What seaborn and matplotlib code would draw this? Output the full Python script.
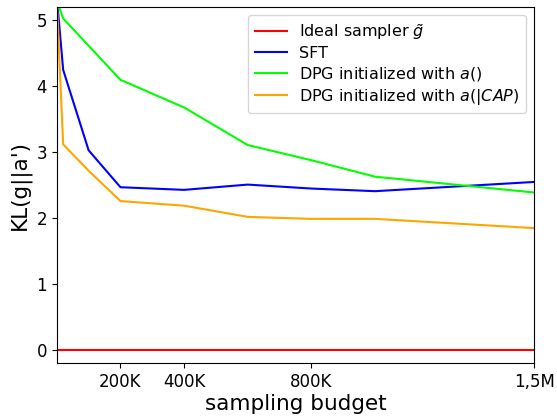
import pandas as pd
import matplotlib
matplotlib.use("Agg")
import matplotlib.pyplot as plt
import seaborn as sns

# sampling budget (thousands of samples)
budget = [0, 20, 100, 200, 400, 600, 800, 1000, 1500]

ideal = [0, 0, 0, 0, 0, 0, 0, 0, 0]
sft = [5.35, 4.25, 3.03, 2.47, 2.43, 2.51, 2.45, 2.41, 2.55]
dpg_a = [5.3, 5.03, None, 4.1, 3.68, 3.11, 2.88, 2.63, 2.39]
dpg_cap = [5.3, 3.12, 2.72, 2.26, 2.19, 2.02, 1.99, 1.99, 1.85]

tick_vals = [200, 400, 800, 1500]
tick_labels = ["200K", "400K", "800K", "1,5M"]

series = [
    ("Ideal sampler $\\tilde{g}$", ideal, "red"),
    ("SFT", sft, "blue"),
    ("DPG initialized with $a()$", dpg_a, "lime"),
    ("DPG initialized with $a(|CAP)$", dpg_cap, "orange"),
]


def main():
    fig, ax = plt.subplots(figsize=(5.57, 4.17), dpi=100)
    fig.subplots_adjust(left=0.102, right=0.959, top=0.9825, bottom=0.129)

    for label, vals, color in series:
        df = pd.DataFrame({"budget": budget, "kl": vals}).dropna()
        sns.lineplot(data=df, x="budget", y="kl", ax=ax, color=color,
                     label=label, linewidth=1.5)

    ax.set_xlim(0, 1500)
    ax.set_ylim(-0.2, 5.2)
    ax.set_xticks(tick_vals)
    ax.set_xticklabels(tick_labels)
    ax.set_yticks([0, 1, 2, 3, 4, 5])
    ax.tick_params(labelsize=12)
    ax.set_xlabel("sampling budget", fontsize=15.5, labelpad=2)
    ax.set_ylabel("KL(g||a')", fontsize=15.5)
    ax.legend(loc="upper right", fontsize=11.5, labelspacing=0.25,
              handlelength=2.0)

    fig.savefig("out.png", dpi=100)
    plt.close(fig)


if __name__ == "__main__":
    main()
